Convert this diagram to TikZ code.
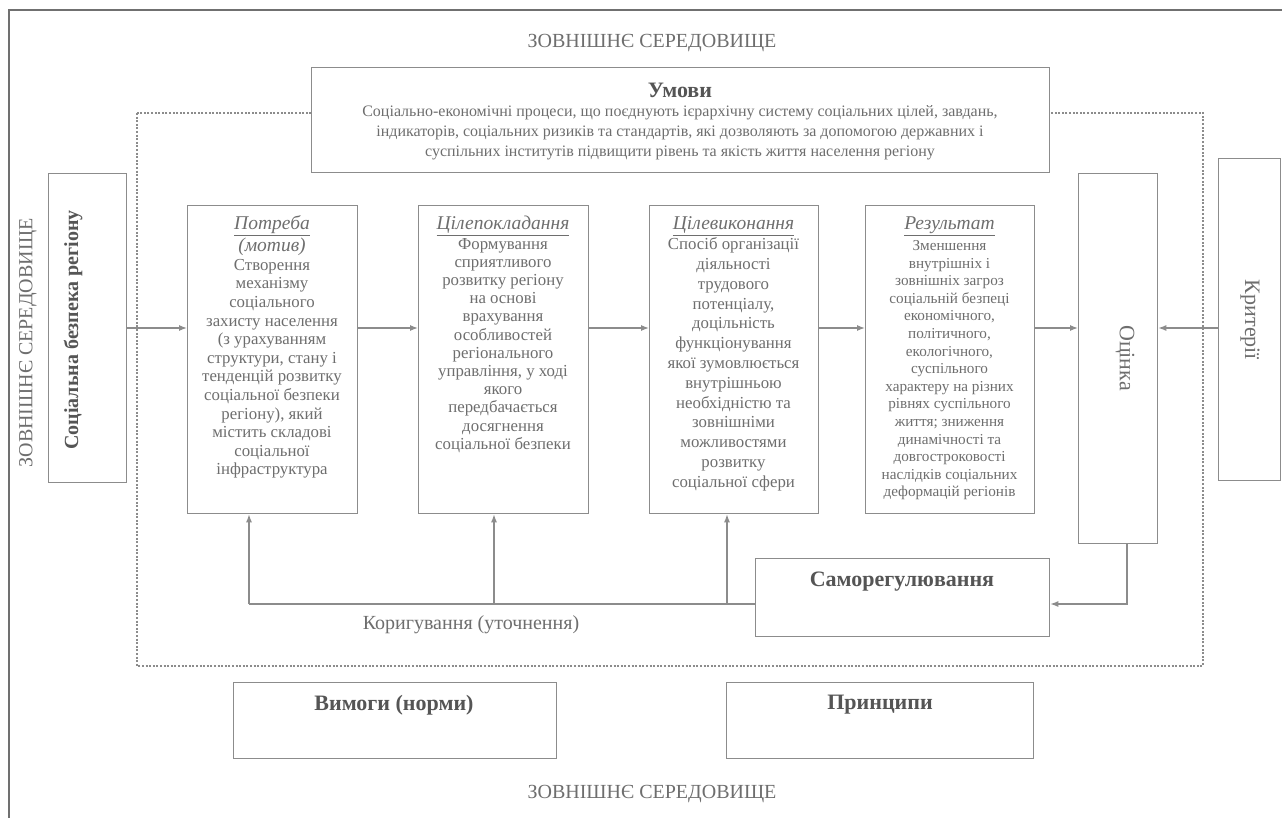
\documentclass[tikz,border=0pt]{standalone}
\usepackage{fontspec}
\setmainfont{Liberation Serif}
\usetikzlibrary{arrows.meta}
\definecolor{lc}{HTML}{8C8C8C}
\definecolor{tx}{HTML}{6E6E6E}
\definecolor{hd}{HTML}{555555}
\definecolor{fr}{HTML}{707070}
\begin{document}
\begin{tikzpicture}[x=1pt,y=-1pt,
  box/.style={draw=lc, line width=1.3pt, fill=white, inner sep=0pt, anchor=north west},
  body/.style={text=tx, inner sep=0pt, anchor=base},
  arr/.style={draw=lc, line width=1.3pt, -{Latex[length=8pt,width=6pt]}},
  wire/.style={draw=lc, line width=1.3pt},
  head/.style={text=hd, font=\bfseries\fontsize{22}{24}\selectfont, inner sep=0pt},
  lab/.style={text=tx, font=\fontsize{20}{22}\selectfont, inner sep=0pt},
  labbig/.style={text=tx, font=\fontsize{22}{24}\selectfont, inner sep=0pt}]
\useasboundingbox (0,0) rectangle (1282,818);
\fill[white] (0,0) rectangle (1282,818);
% outer frame
\draw[fr, line width=2.5pt] (9,818) -- (9,10) -- (1282,10);
% dotted system boundary
\draw[lc, line width=2.5pt, dash pattern=on 2pt off 1.6pt] (137,113) rectangle (1203,666);
% environment labels
\node[lab] (envT) at (652,43) {ЗОВНІШНЄ СЕРЕДОВИЩЕ};
\node[lab] (envB) at (652,794) {ЗОВНІШНЄ СЕРЕДОВИЩЕ};
\node[lab, rotate=90] (envL) at (28,343) {ЗОВНІШНЄ СЕРЕДОВИЩЕ};
% conditions
\node[box, minimum width=738pt, minimum height=105pt] (um) at (311,67) {};
\node[head] (umT) at (680,90) {Умови};
\node[body] (umB) at (680,117) {\parbox[t]{720pt}{\centering\fontsize{16}{20}\selectfont
Соціально-економічні процеси, що поєднують ієрархічну систему соціальних цілей, завдань,\\
індикаторів, соціальних ризиків та стандартів, які дозволяють за допомогою державних і\\
суспільних інститутів підвищити рівень та якість життя населення регіону}};
% left input
\node[box, minimum width=78pt, minimum height=309pt] (sb) at (48,173) {};
\node[text=hd, font=\bfseries\fontsize{20}{22}\selectfont, inner sep=0pt, rotate=90] (sbT) at (73,330) {Соціальна безпека регіону};
% process boxes
\node[box, minimum width=170pt, minimum height=308pt] (b1) at (187,205) {};
\node[box, minimum width=170pt, minimum height=308pt] (b2) at (418,205) {};
\node[box, minimum width=169pt, minimum height=308pt] (b3) at (649,205) {};
\node[box, minimum width=169pt, minimum height=308pt] (b4) at (865,205) {};
\node[body] (b1T) at (272,230) {\parbox[t]{166pt}{\centering\fontsize{16.8}{18.6}\selectfont
{\fontsize{19.5}{18.6}\selectfont\underline{\textit{Потреба}}}\\[1pt]
{\fontsize{19.5}{18.6}\selectfont\textit{(мотив)}}\\
Створення\\ механізму\\ соціального\\ захисту населення\\ (з урахуванням\\ структури, стану і\\ тенденцій розвитку\\ соціальної безпеки\\ регіону), який\\ містить складові\\ соціальної\\ інфраструктура}};
\node[body] (b2T) at (503,230) {\parbox[t]{166pt}{\centering\fontsize{16.8}{18.2}\selectfont
{\fontsize{19.5}{18.2}\selectfont\underline{\textit{Цілепокладання}}}\\[1pt]
Формування\\ сприятливого\\ розвитку регіону\\ на основі\\ врахування\\ особливостей\\ регіонального\\ управління, у ході\\ якого\\ передбачається\\ досягнення\\ соціальної безпеки}};
\node[body] (b3T) at (733.5,230) {\parbox[t]{166pt}{\centering\fontsize{16.8}{19.8}\selectfont
{\fontsize{19.5}{19.8}\selectfont\underline{\textit{Цілевиконання}}}\\
Спосіб організації\\ діяльності\\ трудового\\ потенціалу,\\ доцільність\\ функціонування\\ якої зумовлюється\\ внутрішньою\\ необхідністю та\\ зовнішніми\\ можливостями\\ розвитку\\ соціальної сфери}};
\node[body] (b4T) at (949.5,230) {\parbox[t]{166pt}{\centering\fontsize{15.2}{17.6}\selectfont
{\fontsize{19.5}{17.6}\selectfont\underline{\textit{Результат}}}\\[3pt]
Зменшення\\ внутрішніх і\\ зовнішніх загроз\\ соціальній безпеці\\ економічного,\\ політичного,\\ екологічного,\\ суспільного\\ характеру на різних\\ рівнях суспільного\\ життя; зниження\\ динамічності та\\ довгостроковості\\ наслідків соціальних\\ деформацій регіонів}};
% evaluation and criteria
\node[box, minimum width=79pt, minimum height=370pt] (oc) at (1078,173) {};
\node[labbig, rotate=-90] (ocT) at (1125,358) {Оцінка};
\node[box, minimum width=62pt, minimum height=322pt] (kr) at (1218,158) {};
\node[labbig, rotate=-90] (krT) at (1250,320) {Критерії};
% self-regulation
\node[box, minimum width=294pt, minimum height=78pt] (sr) at (755,558) {};
\node[head] (srT) at (902,582) {Саморегулювання};
% requirements and principles
\node[box, minimum width=323pt, minimum height=76pt] (vm) at (233,682) {};
\node[head] (vmT) at (394,705) {Вимоги (норми)};
\node[box, minimum width=307pt, minimum height=76pt] (pr) at (726,682) {};
\node[head] (prT) at (880,705) {Принципи};
% main flow arrows (y = 328)
\coordinate (mf) at (0,328);
\draw[arr] (sb.east |- mf) -- (b1.west |- mf);
\draw[arr] (b1.east |- mf) -- (b2.west |- mf);
\draw[arr] (b2.east |- mf) -- (b3.west |- mf);
\draw[arr] (b3.east |- mf) -- (b4.west |- mf);
\draw[arr] (b4.east |- mf) -- (oc.west |- mf);
\draw[arr] (kr.west |- mf) -- (oc.east |- mf);
% feedback
\coordinate (fb) at (1127,604);
\draw[arr] (oc.south -| fb) -- (fb) -- (fb -| sr.east);
\coordinate (c1) at (249,604);
\coordinate (c2) at (494,604);
\coordinate (c3) at (727,604);
\draw[wire] (sr.west |- c1) -- (c1);
\draw[arr] (c1) -- (c1 |- b1.south);
\draw[arr] (c2) -- (c2 |- b2.south);
\draw[arr] (c3) -- (c3 |- b3.south);
\node[lab] (kor) at (471,625) {Коригування (уточнення)};
\end{tikzpicture}
\end{document}
